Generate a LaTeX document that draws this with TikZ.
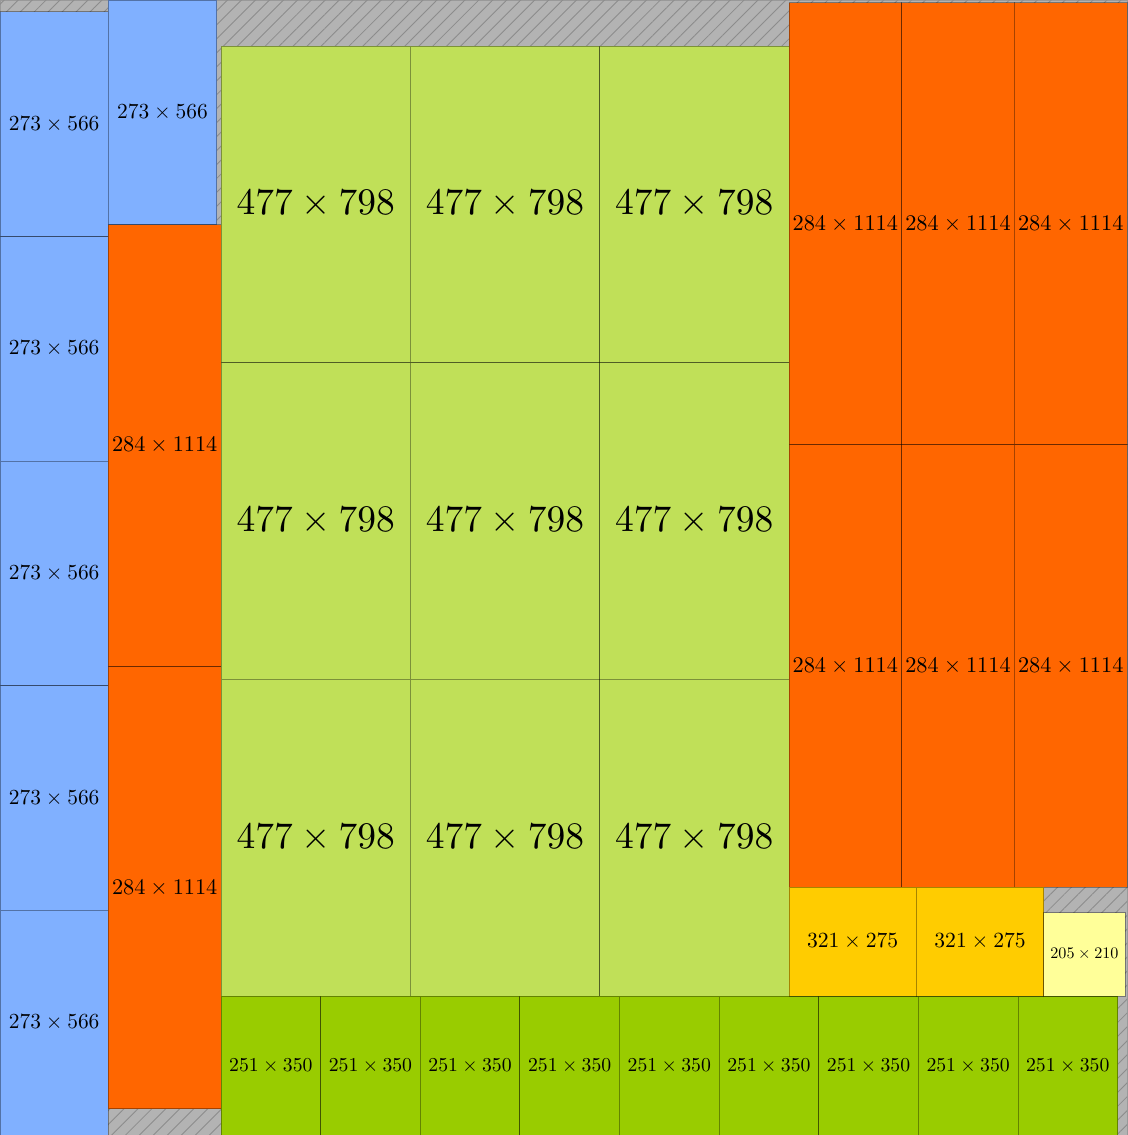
\documentclass[tikz,border=0pt]{standalone}
\usepackage{graphicx}
\usetikzlibrary{patterns.meta}
\definecolor{bluebox}{HTML}{80B0FF}
\definecolor{orangebox}{HTML}{FF6600}
\definecolor{limebox}{HTML}{C0E058}
\definecolor{greenbox}{HTML}{99CC00}
\definecolor{yellowbox}{HTML}{FFCC00}
\definecolor{paleybox}{HTML}{FFFF99}
\definecolor{wastegray}{HTML}{B3B3B3}
\tikzset{
  piece/.style={draw=black,draw opacity=0.35,line width=0.4pt,inner sep=0pt,outer sep=0pt,anchor=north west},
  waste/.style={draw=black!40,line width=0.4pt,fill=wastegray,
    postaction={pattern={Lines[angle=45,distance=4.6pt,line width=0.4pt]},pattern color=black!45}},
}
% name, x, y, w, h, colour, text scale
\newcommand{\packrect}[7]{%
  \node[piece,fill=#6,minimum width=#4*0.0065cm,minimum height=#5*0.0065cm]
    (#1) at (#2,#3) {\scalebox{#7}{$#4\times#5$}};}

\begin{document}
\begin{tikzpicture}[x=0.0065cm,y=-0.0065cm]
\useasboundingbox (0,0) rectangle (2840,2860);
\path[waste] (0,0) rectangle (2840,2860);
% left columns
\foreach \k in {0,...,4}
  \packrect{blue\k}{0}{30+566*\k}{273}{566}{bluebox}{1};
\packrect{blue5}{273}{0}{273}{566}{bluebox}{1};
\foreach \k in {0,1}
  \packrect{left\k}{273}{566+1114*\k}{284}{1114}{orangebox}{1.04};
% middle
\foreach \i in {0,1,2}
  \foreach \j in {0,1,2}
    \packrect{big\i\j}{557+477*\i}{116+798*\j}{477}{798}{limebox}{1.747};
\foreach \i in {0,...,8}
  \packrect{low\i}{557+251*\i}{2510}{251}{350}{greenbox}{0.919};
% right block
\foreach \i in {0,1,2}
  \foreach \j in {0,1}
    \packrect{right\i\j}{1988+284*\i}{7+1114*\j}{284}{1114}{orangebox}{1.04};
\foreach \i in {0,1}
  \packrect{mid\i}{1988+321*\i}{2235}{321}{275}{yellowbox}{1.007};
\packrect{small}{2630}{2300}{205}{210}{paleybox}{0.751};
\end{tikzpicture}
\end{document}
